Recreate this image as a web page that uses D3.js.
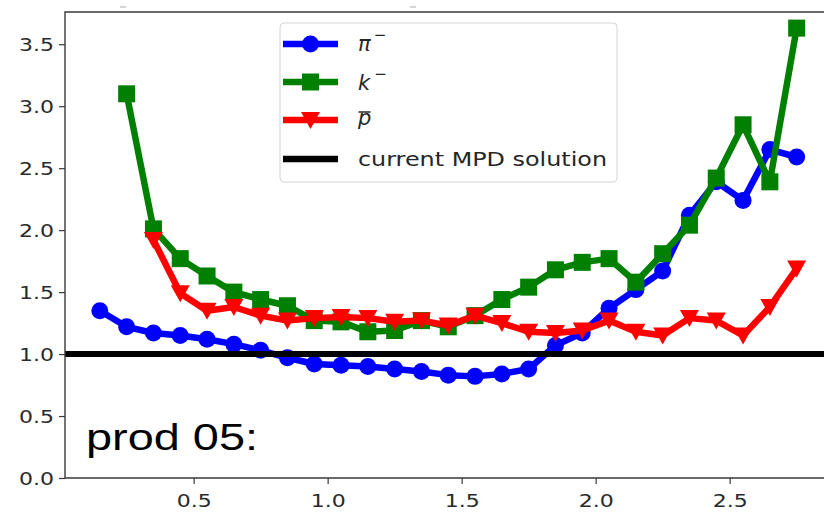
<!DOCTYPE html>
<html>
<head>
<meta charset="utf-8">
<script src="https://cdn.jsdelivr.net/npm/d3@7"></script>
<style>
  html, body { margin: 0; padding: 0; background: #fff; }
  svg { display: block; }
</style>
</head>
<body>
<svg id="chart" width="824" height="516"></svg>
<script>
// ---- data ----
const xPi = [0.15,0.25,0.35,0.45,0.55,0.65,0.75,0.85,0.95,1.05,1.15,1.25,1.35,1.45,1.55,1.65,1.75,1.85,1.95,2.05,2.15,2.25,2.35,2.45,2.55,2.65,2.75];
const yPi = [1.35,1.22,1.17,1.15,1.12,1.08,1.03,0.97,0.92,0.91,0.90,0.88,0.86,0.83,0.82,0.84,0.88,1.07,1.17,1.37,1.52,1.67,2.12,2.39,2.24,2.65,2.59];
const xK = [0.25,0.35,0.45,0.55,0.65,0.75,0.85,0.95,1.05,1.15,1.25,1.35,1.45,1.55,1.65,1.75,1.85,1.95,2.05,2.15,2.25,2.35,2.45,2.55,2.65,2.75];
const yK = [3.10,2.01,1.77,1.63,1.50,1.44,1.39,1.27,1.26,1.18,1.19,1.27,1.22,1.31,1.44,1.54,1.68,1.74,1.77,1.58,1.81,2.04,2.42,2.85,2.39,3.63];
const xP = [0.35,0.45,0.55,0.65,0.75,0.85,0.95,1.05,1.15,1.25,1.35,1.45,1.55,1.65,1.75,1.85,1.95,2.05,2.15,2.25,2.35,2.45,2.55,2.65,2.75];
const yP = [1.92,1.49,1.35,1.38,1.31,1.27,1.29,1.30,1.29,1.26,1.27,1.23,1.31,1.25,1.18,1.17,1.19,1.27,1.18,1.15,1.29,1.27,1.15,1.38,1.69];
const refLevel = 1.0;
const xTicks = [0.5, 1.0, 1.5, 2.0, 2.5];
const yTicks = [0.0, 0.5, 1.0, 1.5, 2.0, 2.5, 3.0, 3.5];
const legendLabels = ["π", "k", "p", "current MPD solution"];
const annotation = "prod 05:";

// ---- layout ----
const svg = d3.select("#chart");
const L = 65, T = 12, B = 478, R = 831.5;
const x = d3.scaleLinear().domain([0.02, 2.88]).range([L, R]);
const y = d3.scaleLinear().domain([0, 3.76]).range([B, T]);
const axisColor = "#3a3a3a";
const font = "DejaVu Sans, sans-serif";

// clip
svg.append("defs").append("clipPath").attr("id", "clip")
  .append("rect").attr("x", L).attr("y", T).attr("width", R - L).attr("height", B - T);

// faint remnants above the plot
[[123],[413]].forEach(([cx]) => {
  svg.append("line").attr("x1", cx - 3).attr("x2", cx + 3).attr("y1", 7).attr("y2", 7)
    .attr("stroke", "#aaa").attr("stroke-width", 1);
});

// axes
const yAxis = d3.axisLeft(y).tickValues(yTicks).tickFormat(d3.format(".1f")).tickSize(6).tickPadding(5);
const xAxis = d3.axisBottom(x).tickValues(xTicks).tickFormat(d3.format(".1f")).tickSize(6).tickPadding(9);

const gy = svg.append("g").attr("transform", `translate(${L},0)`).call(yAxis);
const gx = svg.append("g").attr("transform", `translate(0,${B})`).call(xAxis);
[gx, gy].forEach(g => {
  g.select(".domain").remove();
  g.selectAll(".tick line").attr("stroke", axisColor).attr("stroke-width", 1.2);
  g.selectAll(".tick text")
    .attr("fill", "#2a2a2a").attr("font-family", font).attr("font-size", 18.5)
    .attr("textLength", 35).attr("lengthAdjust", "spacingAndGlyphs");
});
gy.selectAll(".tick text").attr("dy", "0.36em");
gx.selectAll(".tick text").attr("dy", "0.74em");

// series
const plot = svg.append("g").attr("clip-path", "url(#clip)");
const line = d3.line().x(d => x(d[0])).y(d => y(d[1]));
const series = [
  { xs: xPi, ys: yPi, color: "#0000ff", marker: "circle" },
  { xs: xK,  ys: yK,  color: "#008000", marker: "square" },
  { xs: xP,  ys: yP,  color: "#ff0000", marker: "tri" }
];
function drawMarker(g, mk, cx, cy, color) {
  if (mk === "circle") {
    g.append("circle").attr("cx", cx).attr("cy", cy).attr("r", 8.5).attr("fill", color);
  } else if (mk === "square") {
    g.append("rect").attr("x", cx - 8.5).attr("y", cy - 8.5).attr("width", 17).attr("height", 17).attr("fill", color);
  } else {
    g.append("path").attr("d", `M${cx - 9.5},${cy - 8} L${cx + 9.5},${cy - 8} L${cx},${cy + 9} Z`).attr("fill", color);
  }
}
series.forEach(s => {
  const pts = s.xs.map((v, i) => [v, s.ys[i]]);
  const g = plot.append("g");
  g.append("path").datum(pts).attr("d", line).attr("fill", "none")
    .attr("stroke", s.color).attr("stroke-width", 6.5).attr("stroke-linejoin", "round");
  pts.forEach(p => drawMarker(g, s.marker, x(p[0]), y(p[1]), s.color));
});

// reference line
plot.append("line").attr("x1", L).attr("x2", R).attr("y1", y(refLevel)).attr("y2", y(refLevel))
  .attr("stroke", "#000").attr("stroke-width", 6);

// frame (left, top, bottom)
svg.append("path").attr("d", `M${R},${T} L${L},${T} L${L},${B} L${R},${B}`)
  .attr("fill", "none").attr("stroke", axisColor).attr("stroke-width", 1.4);

// annotation
svg.append("text").attr("x", 86).attr("y", 450).text(annotation)
  .attr("font-family", "Liberation Sans, Arial, sans-serif").attr("font-size", 37)
  .attr("fill", "#000").attr("textLength", 172).attr("lengthAdjust", "spacingAndGlyphs");

// legend
const lg = svg.append("g");
lg.append("rect").attr("x", 280).attr("y", 23).attr("width", 337).attr("height", 159)
  .attr("rx", 4).attr("fill", "#fff").attr("fill-opacity", 0.85).attr("stroke", "#d4d4d4").attr("stroke-width", 1);
const rowsY = [44, 82, 120, 159];
const handles = [
  { color: "#0000ff", marker: "circle" },
  { color: "#008000", marker: "square" },
  { color: "#ff0000", marker: "tri" },
  { color: "#000000", marker: null }
];
handles.forEach((h, i) => {
  const cy = rowsY[i];
  lg.append("line").attr("x1", 283).attr("x2", 338).attr("y1", cy).attr("y2", cy)
    .attr("stroke", h.color).attr("stroke-width", 6.5);
  if (h.marker) drawMarker(lg, h.marker, 310.5, cy, h.color);
});
const tx = 358, textColor = "#262626";
// pi^-
const t0 = lg.append("text").attr("x", tx).attr("y", rowsY[0] + 7).attr("font-family", font)
  .attr("font-size", 21).attr("fill", textColor);
t0.append("tspan").attr("font-style", "italic").text(legendLabels[0]);
t0.append("tspan").attr("font-size", 15).attr("dx", 3).attr("dy", -11).text("−");
// k^-
const t1 = lg.append("text").attr("x", tx).attr("y", rowsY[1] + 8).attr("font-family", font)
  .attr("font-size", 21).attr("fill", textColor);
t1.append("tspan").attr("font-style", "italic").text(legendLabels[1]);
t1.append("tspan").attr("font-size", 15).attr("dx", 4).attr("dy", -11).text("−");
// p-bar
lg.append("text").attr("x", tx).attr("y", rowsY[2] + 5).attr("font-family", font)
  .attr("font-size", 21).attr("font-style", "italic").attr("fill", textColor).text(legendLabels[2]);
lg.append("line").attr("x1", tx + 0.5).attr("x2", tx + 12.5).attr("y1", rowsY[2] - 8).attr("y2", rowsY[2] - 8)
  .attr("stroke", textColor).attr("stroke-width", 1.5);
// current MPD solution
lg.append("text").attr("x", tx).attr("y", rowsY[3] + 7).attr("font-family", font)
  .attr("font-size", 20).attr("fill", textColor).attr("textLength", 249).attr("lengthAdjust", "spacingAndGlyphs")
  .text(legendLabels[3]);
</script>
</body>
</html>
